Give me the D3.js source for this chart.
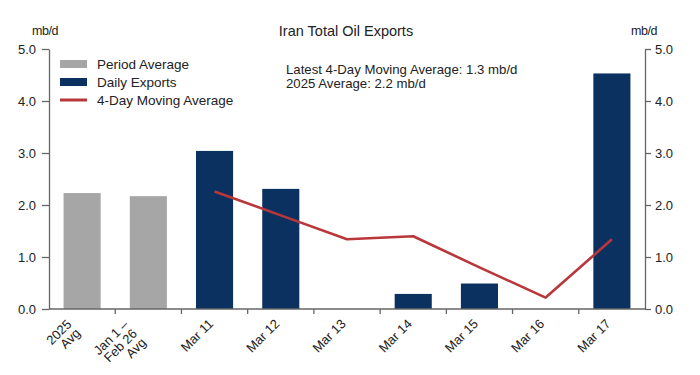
<!DOCTYPE html>
<html>
<head>
<meta charset="utf-8">
<script src="https://cdn.jsdelivr.net/npm/d3@7"></script>
<style>
  body { margin: 0; background: #fff; }
  text { font-family: "Liberation Sans", Arial, sans-serif; fill: #222; }
</style>
</head>
<body>
<div id="chart"></div>
<script>
// categories (multi-line labels split by "|")
const categories = ["2025|Avg", "Jan 1 –|Feb 26|Avg", "Mar 11", "Mar 12", "Mar 13", "Mar 14", "Mar 15", "Mar 16", "Mar 17"];
const barValues = [2.23, 2.17, 3.04, 2.31, 0, 0.29, 0.49, 0, 4.53];
const barKinds = ["avg", "avg", "daily", "daily", "daily", "daily", "daily", "daily", "daily"];
const maCategories = ["Mar 11", "Mar 12", "Mar 13", "Mar 14", "Mar 15", "Mar 16", "Mar 17"];
const maValues = [2.26, 1.80, 1.34, 1.40, 0.80, 0.22, 1.34];
const yTicks = [0, 1, 2, 3, 4, 5];
const legendItems = ["Period Average", "Daily Exports", "4-Day Moving Average"];
const notes = ["Latest 4-Day Moving Average: 1.3 mb/d", "2025 Average: 2.2 mb/d"];

const width = 700, height = 375;
const plotLeft = 49, plotRight = 645, plotTop = 49, plotBottom = 309;
const colors = { avg: "#a6a6a6", daily: "#0b3160", line: "#b9373a", axis: "#666" };

const svg = d3.select("#chart").append("svg")
  .attr("width", width)
  .attr("height", height);

const x = d3.scaleBand()
  .domain(categories)
  .range([plotLeft, plotRight])
  .paddingInner(0.44)
  .paddingOuter(0.22);

const y = d3.scaleLinear()
  .domain([0, 5])
  .range([plotBottom, plotTop]);

// bars
svg.selectAll("rect.bar")
  .data(categories)
  .enter()
  .append("rect")
  .attr("class", "bar")
  .attr("x", d => x(d))
  .attr("width", x.bandwidth())
  .attr("y", (d, i) => y(barValues[i]))
  .attr("height", (d, i) => y(0) - y(barValues[i]))
  .attr("fill", (d, i) => colors[barKinds[i]]);

// moving average line
const line = d3.line()
  .x((d, i) => x(maCategories[i]) + x.bandwidth() / 2)
  .y(d => y(d));

svg.append("path")
  .datum(maValues)
  .attr("d", line)
  .attr("fill", "none")
  .attr("stroke", colors.line)
  .attr("stroke-width", 2.6)
  .attr("stroke-linejoin", "round");

// y axes
function styleAxis(g) {
  g.select(".domain").attr("stroke", colors.axis).attr("stroke-width", 1.3);
  g.selectAll(".tick line").attr("stroke", colors.axis).attr("stroke-width", 1.3);
  g.selectAll(".tick text")
    .style("font-family", '"Liberation Sans", Arial, sans-serif')
    .style("font-size", "13px")
    .attr("fill", "#222");
}

svg.append("g")
  .attr("transform", `translate(${plotLeft},0)`)
  .call(d3.axisLeft(y).tickValues(yTicks).tickFormat(d3.format(".1f")).tickSize(7).tickSizeOuter(0).tickPadding(6))
  .call(styleAxis);

svg.append("g")
  .attr("transform", `translate(${plotRight},0)`)
  .call(d3.axisRight(y).tickValues(yTicks).tickFormat(d3.format(".1f")).tickSize(6).tickSizeOuter(0).tickPadding(4))
  .call(styleAxis);

// x axis baseline and ticks between categories
const xAxis = svg.append("g");
xAxis.append("line")
  .attr("x1", plotLeft).attr("x2", plotRight)
  .attr("y1", y(0)).attr("y2", y(0))
  .attr("stroke", colors.axis).attr("stroke-width", 1.3);

xAxis.selectAll("line.sep")
  .data(categories.slice(1))
  .enter()
  .append("line")
  .attr("class", "sep")
  .attr("x1", d => x(d) - x.step() * x.paddingInner() / 2)
  .attr("x2", d => x(d) - x.step() * x.paddingInner() / 2)
  .attr("y1", y(0))
  .attr("y2", y(0) + 5)
  .attr("stroke", colors.axis).attr("stroke-width", 1.3);

// rotated category labels
const labels = xAxis.selectAll("text.cat")
  .data(categories)
  .enter()
  .append("text")
  .attr("class", "cat")
  .attr("text-anchor", "end")
  .style("font-size", "13px")
  .attr("transform", d => `translate(${x(d) + x.bandwidth() / 2 - 4},${y(0) + 12}) rotate(-45)`);

labels.each(function(d) {
  const parts = d.split("|");
  const n = parts.length;
  d3.select(this).selectAll("tspan")
    .data(parts)
    .enter()
    .append("tspan")
    .attr("x", -7 * (n - 1))
    .attr("y", (p, i) => (i - (n - 1) / 2) * 12.5 + 5)
    .text(p => p);
});

// unit labels
svg.append("text").attr("x", 45).attr("y", 35).attr("text-anchor", "middle")
  .style("font-size", "12.5px").style("letter-spacing", "-0.4px").text("mb/d");
svg.append("text").attr("x", 644).attr("y", 35).attr("text-anchor", "middle")
  .style("font-size", "12.5px").style("letter-spacing", "-0.4px").text("mb/d");

// title
svg.append("text")
  .attr("x", 346).attr("y", 36)
  .attr("text-anchor", "middle")
  .style("font-size", "14.5px")
  .text("Iran Total Oil Exports");

// annotation
svg.selectAll("text.note")
  .data(notes)
  .enter()
  .append("text")
  .attr("class", "note")
  .attr("x", 286)
  .attr("y", (d, i) => 74 + i * 14)
  .style("font-size", "13.2px")
  .text(d => d);

// legend
const legend = svg.append("g").attr("transform", "translate(60,0)");
const legendY = [64, 82, 100];

legend.append("rect").attr("x", 0).attr("y", legendY[0] - 4).attr("width", 27).attr("height", 8).attr("fill", colors.avg);
legend.append("rect").attr("x", 0).attr("y", legendY[1] - 4).attr("width", 27).attr("height", 8).attr("fill", colors.daily);
legend.append("line").attr("x1", 0).attr("x2", 27).attr("y1", legendY[2]).attr("y2", legendY[2])
  .attr("stroke", colors.line).attr("stroke-width", 3);

legend.selectAll("text")
  .data(legendItems)
  .enter()
  .append("text")
  .attr("x", 37)
  .attr("y", (d, i) => legendY[i] + 4.5)
  .style("font-size", "13.5px")
  .text(d => d);
</script>
</body>
</html>
